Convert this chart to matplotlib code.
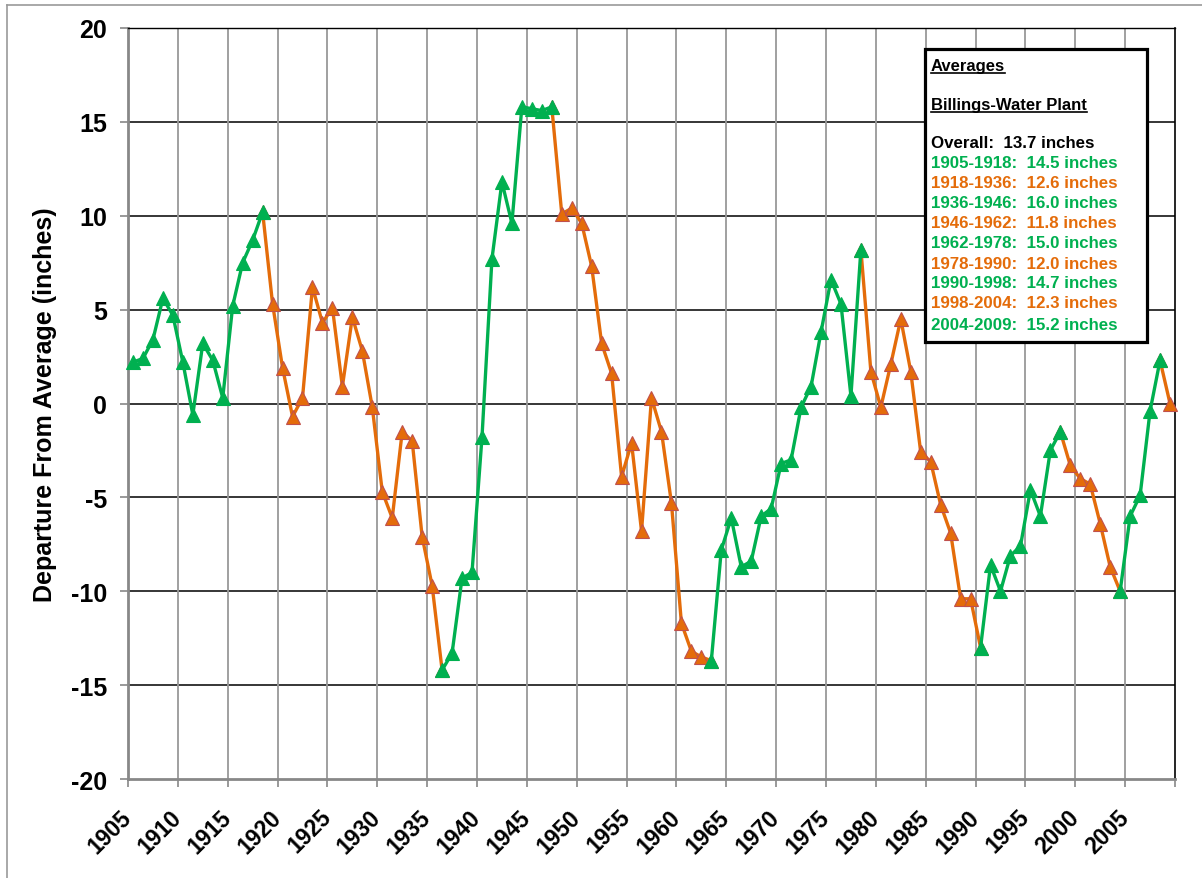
import numpy as np
import matplotlib
matplotlib.use("Agg")
import matplotlib.pyplot as plt
import matplotlib.transforms as mtransforms
from matplotlib.patches import Rectangle
from matplotlib.lines import Line2D

plt.rcParams['font.family'] = ['Liberation Sans', 'DejaVu Sans']

# departure from average precipitation (inches), Billings-Water Plant
years = list(range(1905, 2010))
departure = [
    2.2, 2.4, 3.4, 5.6, 4.7, 2.2, -0.6, 3.2, 2.3, 0.3,            # 1905-1914
    5.2, 7.5, 8.7, 10.2, 5.3, 1.9, -0.7, 0.3, 6.2, 4.3,           # 1915-1924
    5.1, 0.9, 4.6, 2.8, -0.2, -4.7, -6.1, -1.5, -2.0, -7.1,       # 1925-1934
    -9.7, -14.2, -13.3, -9.3, -9.0, -1.8, 7.7, 11.8, 9.6, 15.8,   # 1935-1944
    15.7, 15.6, 15.8, 10.1, 10.4, 9.6, 7.3, 3.2, 1.6, -3.9,       # 1945-1954
    -2.1, -6.8, 0.3, -1.5, -5.3, -11.7, -13.2, -13.5, -13.7, -7.8,  # 1955-1964
    -6.1, -8.7, -8.4, -6.0, -5.6, -3.2, -3.0, -0.2, 0.9, 3.8,     # 1965-1974
    6.6, 5.3, 0.4, 8.2, 1.7, -0.2, 2.1, 4.5, 1.7, -2.6,           # 1975-1984
    -3.1, -5.4, -6.9, -10.4, -10.4, -13.0, -8.6, -10.0, -8.1, -7.6,  # 1985-1994
    -4.6, -6.0, -2.5, -1.5, -3.3, -4.0, -4.3, -6.4, -8.7, -10.0,  # 1995-2004
    -6.0, -4.9, -0.4, 2.3, 0.0,                                   # 2005-2009
]

# wet (green) / dry (orange) periods as drawn
period_breaks = [1905, 1918, 1936, 1947, 1963, 1978, 1990, 1998, 2004, 2008, 2009]
period_wet = [True, False, True, False, True, False, True, False, True, False]

legend_lines = [
    ("Overall:  13.7 inches", "black"),
    ("1905-1918:  14.5 inches", "wet"),
    ("1918-1936:  12.6 inches", "dry"),
    ("1936-1946:  16.0 inches", "wet"),
    ("1946-1962:  11.8 inches", "dry"),
    ("1962-1978:  15.0 inches", "wet"),
    ("1978-1990:  12.0 inches", "dry"),
    ("1990-1998:  14.7 inches", "wet"),
    ("1998-2004:  12.3 inches", "dry"),
    ("2004-2009:  15.2 inches", "wet"),
]

GREEN = '#00B050'
ORANGE = '#E46C0A'
ORANGE_EDGE = '#C0504D'

W, H = 1202, 879
fig = plt.figure(figsize=(W / 100, H / 100), dpi=100)
ax = fig.add_axes([128 / W, 1 - 780 / H, (1175 - 128) / W, (780 - 29) / H])

yrs = np.array(years)
vals = np.array(departure)
for i, wet in enumerate(period_wet):
    a, b = period_breaks[i], period_breaks[i + 1]
    m = (yrs >= a) & (yrs <= b)
    if wet:
        ax.plot(yrs[m], vals[m], color=GREEN, lw=2.4, marker='^', ms=9.5,
                mfc=GREEN, mec=GREEN, mew=0.8, zorder=4, clip_on=False)
    else:
        ax.plot(yrs[m], vals[m], color=ORANGE, lw=2.4, marker='^', ms=9.5,
                mfc=ORANGE, mec=ORANGE_EDGE, mew=0.8, zorder=3, clip_on=False)

ax.set_xlim(1904.5, 2009.5)
ax.set_ylim(-20, 20)

xt = np.arange(1904.5, 2010, 5)
ax.set_xticks(xt)
ax.set_xticklabels([str(int(t + 0.5)) if t < 2009 else '' for t in xt],
                   rotation=45, ha='right', va='center', rotation_mode='anchor',
                   fontsize=16.5, fontweight='bold')
shift = mtransforms.ScaledTranslation(6 / 100, 0, fig.dpi_scale_trans)
for lab in ax.get_xticklabels():
    lab.set_transform(lab.get_transform() + shift)
ax.set_yticks(np.arange(-20, 21, 5))
ax.set_yticklabels([str(v) for v in range(-20, 21, 5)], fontsize=18, fontweight='bold')

ax.tick_params(axis='x', length=5.5, width=1.2, color='#888888', pad=19)
ax.tick_params(axis='y', length=6, width=1.2, color='#888888', pad=9)

for y in range(-15, 21, 5):
    ax.axhline(y, color='black', lw=1.1, zorder=1)
for x in xt[1:-1]:
    ax.axvline(x, color='#999999', lw=1.3, zorder=1)

ax.spines['left'].set_color('#888888')
ax.spines['left'].set_linewidth(2)
ax.spines['bottom'].set_color('#888888')
ax.spines['bottom'].set_linewidth(2)
ax.spines['top'].set_color('black')
ax.spines['top'].set_linewidth(1)
ax.spines['right'].set_color('black')
ax.spines['right'].set_linewidth(1.2)

ax.set_ylabel('Departure From Average (inches)', fontsize=18, fontweight='bold', labelpad=10)

# chart area border (top and left only visible)
fig.add_artist(Line2D([7 / W, 1.0], [1 - 6 / H, 1 - 6 / H], transform=fig.transFigure,
                      color='#999999', lw=1.2))
fig.add_artist(Line2D([7 / W, 7 / W], [0, 1 - 6 / H], transform=fig.transFigure,
                      color='#999999', lw=1.2))

# averages box
fig.add_artist(Rectangle((925 / W, 1 - 343 / H), (1147 - 925) / W, (343 - 50) / H,
                         transform=fig.transFigure, facecolor='white',
                         edgecolor='black', lw=2.3, zorder=5))

tx = 931 / W
t1 = fig.text(tx, 1 - 67 / H, 'Averages', fontsize=12, fontweight='bold',
              va='center', zorder=6)
t2 = fig.text(tx, 1 - 106 / H, 'Billings-Water Plant', fontsize=12, fontweight='bold',
              va='center', zorder=6)
line_y = [143, 163, 183, 204, 224, 243, 265, 284, 304, 325]
for (txt, kind), yy in zip(legend_lines, line_y):
    c = {'black': 'black', 'wet': GREEN, 'dry': ORANGE}[kind]
    fig.text(tx, 1 - yy / H, txt, fontsize=12.2, fontweight='bold', color=c,
             va='center', zorder=6)

# underline the two headings
fig.canvas.draw()
r = fig.canvas.get_renderer()
for t in (t1, t2):
    bb = t.get_window_extent(r)
    yline = (bb.y0 + 1) / fig.bbox.height
    fig.add_artist(Line2D([bb.x0 / fig.bbox.width, bb.x1 / fig.bbox.width], [yline, yline],
                          transform=fig.transFigure, color='black', lw=1.2, zorder=7))

fig.savefig('out.png', dpi=100)
